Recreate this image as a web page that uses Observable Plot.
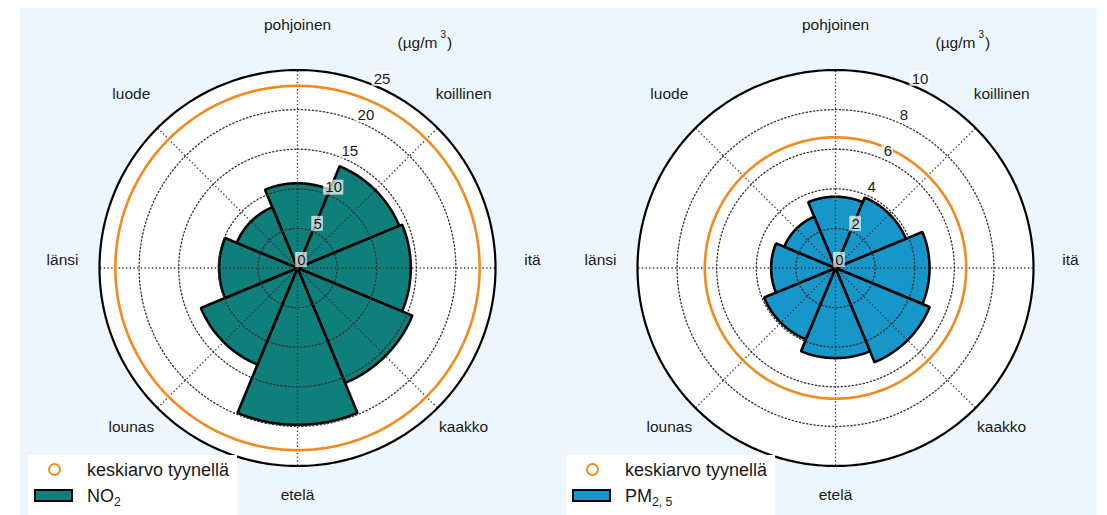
<!DOCTYPE html>
<html><head><meta charset="utf-8">
<script src="https://cdn.jsdelivr.net/npm/d3@7"></script>
<script src="https://cdn.jsdelivr.net/npm/@observablehq/plot@0.6"></script>
<style>
html,body{margin:0;padding:0;background:#fff;}
body{width:1107px;height:515px;position:relative;overflow:hidden;font-family:"Liberation Sans",Arial,Helvetica,sans-serif;color:#1a1a1a;}
#panel{position:absolute;left:20px;top:8px;width:1077px;height:507px;background:#eef6fd;}
.chart{position:absolute;top:8px;}
.chart svg{overflow:visible;}
.legend{position:absolute;top:455px;height:60px;background:#fff;width:209px;}
.legend .mk{position:absolute;left:19.5px;top:8px;width:9px;height:9px;border:2.5px solid #f28a1e;border-radius:50%;}
.legend .sw{position:absolute;left:6px;top:34px;width:35px;height:9px;border:2px solid #000;}
.legend .t{position:absolute;left:59px;font-size:18px;line-height:20px;white-space:nowrap;color:#1a1a1a;}
.legend sub{font-size:0.68em;vertical-align:-0.35em;line-height:0;}
</style></head>
<body>
<div id="panel"></div>
<div id="c1" class="chart" style="left:20px"></div>
<div id="c2" class="chart" style="left:558px"></div>
<div class="legend" style="left:28px">
  <div class="mk"></div><div class="t" style="top:5px">keskiarvo tyynellä</div>
  <div class="sw" style="background:#0f7f7b"></div><div class="t" style="top:31px">NO<sub>2</sub></div>
</div>
<div class="legend" style="left:566px">
  <div class="mk"></div><div class="t" style="top:5px">keskiarvo tyynellä</div>
  <div class="sw" style="background:#1696c9"></div><div class="t" style="top:31px">PM<sub>2, 5</sub></div>
</div>
<script>
// ---- data ----
const directions = ["pohjoinen","koillinen","itä","kaakko","etelä","lounas","länsi","luode"];
const directionAngles = [0,45,90,135,180,225,270,315];
const no2Values = [10.7,13.9,14.3,15.7,19.8,13.2,9.9,8.3];
const pm25Values = [3.6,3.85,4.75,5.15,4.55,3.9,3.25,2.8];
const no2Calm = 23;
const pm25Calm = 6.6;
const no2Ticks = [0,5,10,15,20,25];
const pm25Ticks = [0,2,4,6,8,10];
const unitText = "(µg/m3)";

// ---- layout ----
const W = 538, H = 507, R = 198, CX = 277, CY = 259.5;
const rad = d => d * Math.PI / 180;
const pol = (r, deg) => [r * Math.sin(rad(deg)), r * Math.cos(rad(deg))];
const arc = (r, a0, a1, step) => d3.range(a0, a1 + 1e-9, step).map(a => pol(r, a));

function polarChart({values, ticks, calm, fill}) {
  const rMax = ticks[ticks.length - 1];
  const pxPerUnit = R / rMax;
  const wedges = values.flatMap((v, i) => {
    const c = directionAngles[i];
    const pts = [[0, 0], ...arc(v, c - 22.5, c + 22.5, 0.5), [0, 0]];
    return pts.map(([x, y]) => ({dir: directions[i], x, y}));
  });
  const ring = r => arc(r, 0, 360, 1).map(([x, y]) => ({r, x, y}));
  const gridRings = ticks.filter(t => t > 0 && t < rMax).flatMap(ring);
  const spokes = directionAngles.map(a => {
    const [x2, y2] = pol(rMax, a);
    return {x1: 0, y1: 0, x2, y2};
  });
  const tickAngle = 24;
  const tickLabels = ticks.map(t => {
    const [x, y] = pol(t, tickAngle);
    const w = (String(t).length * 8.6 + 3) / pxPerUnit / 2;
    const h = 15 / pxPerUnit / 2;
    return {x, y, text: String(t), x1: x - w, x2: x + w, y1: y - h, y2: y + h};
  });
  const labelR = rMax * 235 / R;
  const dirLabels = directions.map((d, i) => {
    const [x, y] = pol(labelR, directionAngles[i]);
    return {x, y, text: d};
  });
  const [ux, uy] = pol(rMax * 258.1 / R, 29.56);

  const svg = Plot.plot({
    width: W, height: H,
    marginLeft: CX - R, marginRight: W - CX - R,
    marginTop: CY - R, marginBottom: H - CY - R,
    x: {domain: [-rMax, rMax], axis: null},
    y: {domain: [-rMax, rMax], axis: null},
    style: {background: "transparent", fontFamily: '"Liberation Sans", Arial, Helvetica, sans-serif', fontSize: "15.5px", color: "#1a1a1a"},
    marks: [
      Plot.line(ring(rMax), {x: "x", y: "y", fill: "white", stroke: "none"}),
      Plot.line(wedges, {x: "x", y: "y", z: "dir", fill, stroke: "#000", strokeWidth: 2.6, strokeLinejoin: "miter"}),
      Plot.line(gridRings, {x: "x", y: "y", z: "r", stroke: "#333", strokeWidth: 1.3, strokeDasharray: "1.3,2.4"}),
      Plot.link(spokes, {x1: "x1", y1: "y1", x2: "x2", y2: "y2", stroke: "#333", strokeWidth: 1.3, strokeDasharray: "1.3,2.4"}),
      Plot.line(ring(calm), {x: "x", y: "y", stroke: "#f28a1e", strokeWidth: 2.6}),
      Plot.line(ring(rMax), {x: "x", y: "y", stroke: "#000", strokeWidth: 2.2}),
      Plot.rect(tickLabels, {x1: "x1", x2: "x2", y1: "y1", y2: "y2", fill: "white", fillOpacity: 0.7, dx: 4, dy: -8}),
      Plot.text(tickLabels, {x: "x", y: "y", text: "text", dx: 4, dy: -8, fill: "#1a1a1a", fontSize: 15}),
      Plot.text(dirLabels, {x: "x", y: "y", text: "text", dy: -7.5, fill: "#1a1a1a"}),
      Plot.text([{x: ux, y: uy, text: unitText}], {x: "x", y: "y", text: "text", fill: "#1a1a1a"})
    ]
  });
  // superscript for the unit label
  const ns = "http://www.w3.org/2000/svg";
  svg.querySelectorAll("text").forEach(t => {
    if (t.textContent === unitText) {
      t.textContent = "";
      const a = document.createElementNS(ns, "tspan"); a.textContent = "(µg/m";
      const b = document.createElementNS(ns, "tspan"); b.textContent = "3";
      b.setAttribute("dx", "3"); b.setAttribute("dy", "-10"); b.setAttribute("font-size", "10px");
      const c = document.createElementNS(ns, "tspan"); c.textContent = ")";
      c.setAttribute("dx", "1"); c.setAttribute("dy", "10");
      t.append(a, b, c);
    }
  });
  return svg;
}

document.getElementById("c1").append(polarChart({values: no2Values, ticks: no2Ticks, calm: no2Calm, fill: "#0f7f7b"}));
document.getElementById("c2").append(polarChart({values: pm25Values, ticks: pm25Ticks, calm: pm25Calm, fill: "#1696c9"}));
</script>
</body></html>
